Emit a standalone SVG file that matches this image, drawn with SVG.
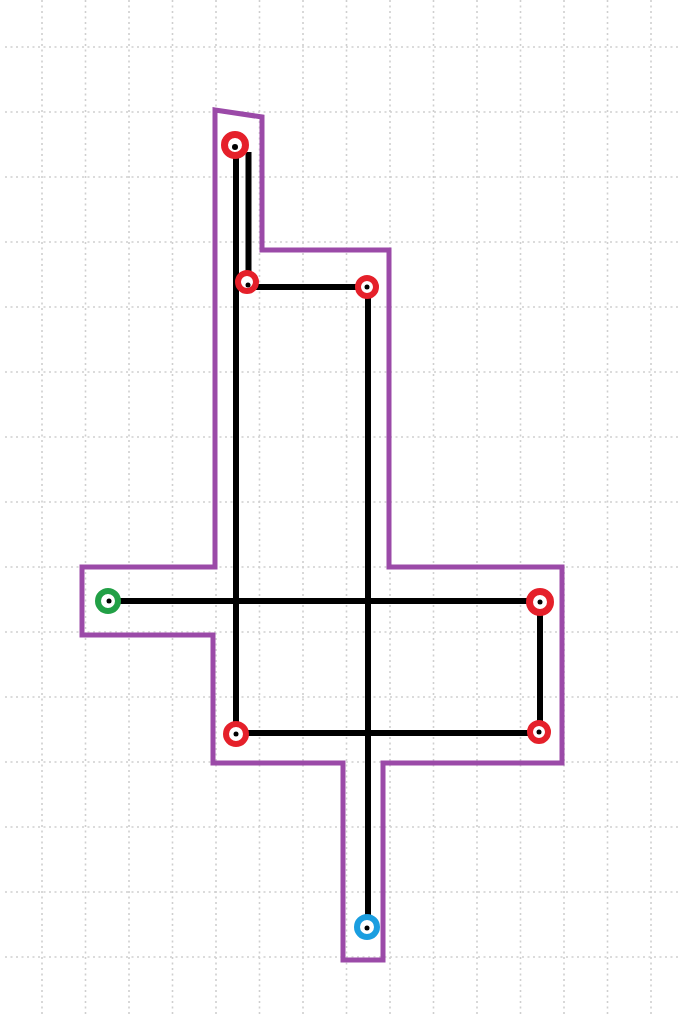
<svg xmlns="http://www.w3.org/2000/svg" width="678" height="1016" viewBox="0 0 678 1016">
<style>
.grid line{stroke:#cfcfcf;stroke-width:1.6;stroke-dasharray:2 3.5}
.outline{fill:none;stroke:#9b4aa8;stroke-width:5;stroke-linejoin:miter}
.conn line{stroke:#000;stroke-width:6;stroke-linecap:butt}
.ring{fill:#fff;stroke-width:6}
.big .ring{stroke-width:7}
.red .ring{stroke:#e5202a}
.green .ring{stroke:#22a046}
.blue .ring{stroke:#1a9ee0}
.dot{fill:#000}
</style>
<rect width="678" height="1016" fill="#fff"/>
<g class="grid">
<line x1="42" y1="0" x2="42" y2="1016"/>
<line x1="85.5" y1="0" x2="85.5" y2="1016"/>
<line x1="129" y1="0" x2="129" y2="1016"/>
<line x1="172.5" y1="0" x2="172.5" y2="1016"/>
<line x1="216" y1="0" x2="216" y2="1016"/>
<line x1="259.5" y1="0" x2="259.5" y2="1016"/>
<line x1="303" y1="0" x2="303" y2="1016"/>
<line x1="346.5" y1="0" x2="346.5" y2="1016"/>
<line x1="390" y1="0" x2="390" y2="1016"/>
<line x1="433.5" y1="0" x2="433.5" y2="1016"/>
<line x1="477" y1="0" x2="477" y2="1016"/>
<line x1="520.5" y1="0" x2="520.5" y2="1016"/>
<line x1="564" y1="0" x2="564" y2="1016"/>
<line x1="607.5" y1="0" x2="607.5" y2="1016"/>
<line x1="651" y1="0" x2="651" y2="1016"/>
<line x1="5" y1="47" x2="678" y2="47"/>
<line x1="5" y1="112" x2="678" y2="112"/>
<line x1="5" y1="177" x2="678" y2="177"/>
<line x1="5" y1="242" x2="678" y2="242"/>
<line x1="5" y1="307" x2="678" y2="307"/>
<line x1="5" y1="372" x2="678" y2="372"/>
<line x1="5" y1="437" x2="678" y2="437"/>
<line x1="5" y1="502" x2="678" y2="502"/>
<line x1="5" y1="567" x2="678" y2="567"/>
<line x1="5" y1="632" x2="678" y2="632"/>
<line x1="5" y1="697" x2="678" y2="697"/>
<line x1="5" y1="762" x2="678" y2="762"/>
<line x1="5" y1="827" x2="678" y2="827"/>
<line x1="5" y1="892" x2="678" y2="892"/>
<line x1="5" y1="957" x2="678" y2="957"/>
</g>
<path class="outline" d="M215,110 L262,117 L262,250 L389,250 L389,567 L562,567 L562,763 L383,763 L383,960 L343,960 L343,763 L213,763 L213,635 L82,635 L82,567 L215,567 Z"/>
<g id="connectors" class="conn">
<line x1="236" y1="145" x2="236" y2="736"/>
<line x1="248.5" y1="152" x2="248.5" y2="285"/>
<line x1="246" y1="287" x2="368" y2="287"/>
<line x1="368" y1="287" x2="368" y2="928"/>
<line x1="108" y1="601" x2="540" y2="601"/>
<line x1="540" y1="599" x2="540" y2="734"/>
<line x1="236" y1="733" x2="540" y2="733"/>
</g>
<g id="n1" class="red big"><circle class="ring" cx="235" cy="145" r="10.5"/><circle class="dot" cx="235" cy="147" r="3"/></g>
<g id="n2" class="red"><circle class="ring" cx="247" cy="282" r="9"/><circle class="dot" cx="248" cy="285" r="2.5"/></g>
<g id="n3" class="red"><circle class="ring" cx="367" cy="287" r="9"/><circle class="dot" cx="367" cy="287" r="2.5"/></g>
<g id="n4" class="red big"><circle class="ring" cx="540" cy="602" r="10.5"/><circle class="dot" cx="540" cy="602" r="2.5"/></g>
<g id="n5" class="red"><circle class="ring" cx="539" cy="732" r="9"/><circle class="dot" cx="539" cy="732" r="2.5"/></g>
<g id="n6" class="red"><circle class="ring" cx="236" cy="734" r="10"/><circle class="dot" cx="236" cy="734" r="2.5"/></g>
<g id="start" class="green"><circle class="ring" cx="108" cy="601" r="10"/><circle class="dot" cx="109" cy="601" r="2.5"/></g>
<g id="end" class="blue"><circle class="ring" cx="367" cy="927" r="10"/><circle class="dot" cx="367" cy="928" r="2.5"/></g>
</svg>
